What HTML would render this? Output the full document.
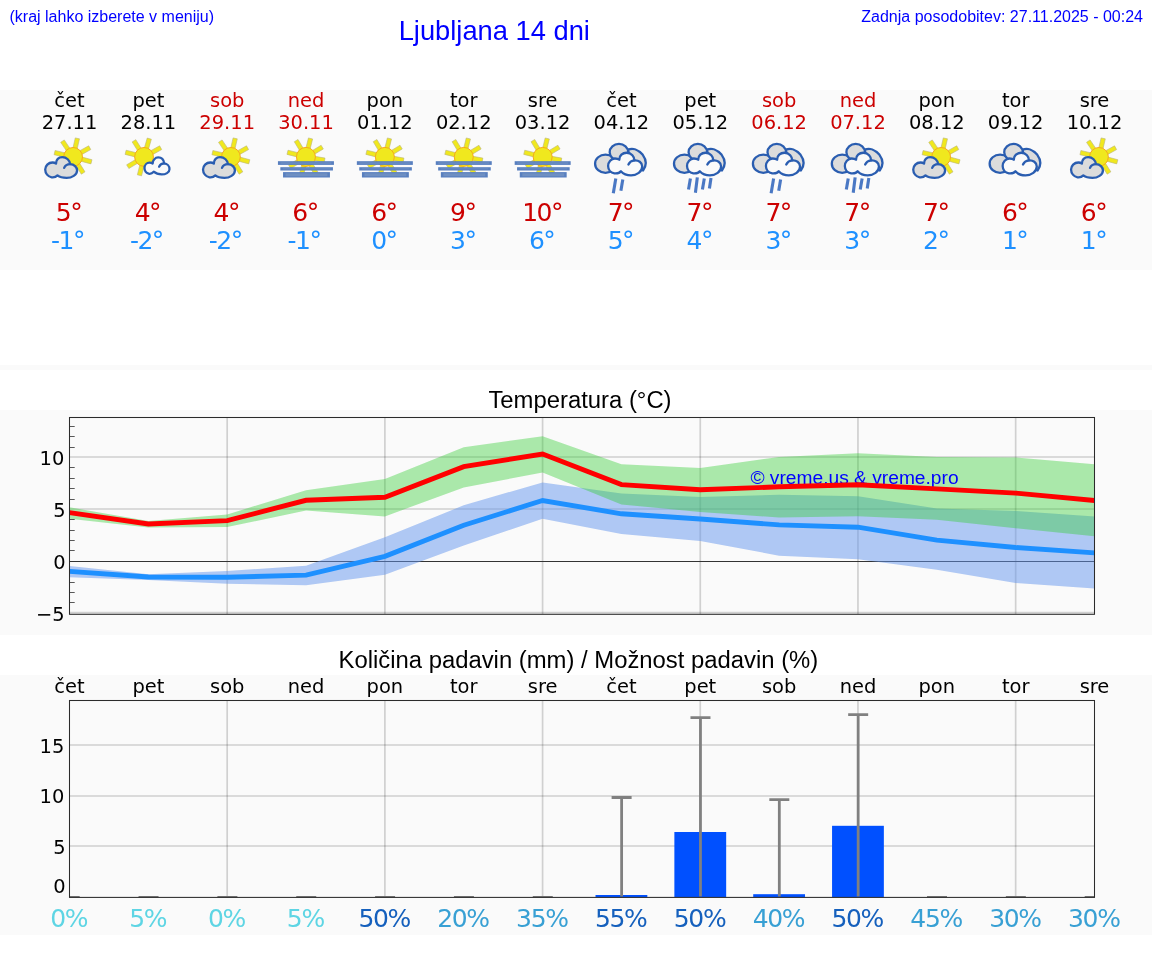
<!DOCTYPE html>
<html lang="sl"><head><meta charset="utf-8"><title>Ljubljana 14 dni</title>
<style>html,body{margin:0;padding:0;background:#fff}svg{display:block;will-change:transform}.d{font-family:'DejaVu Sans','Liberation Sans',sans-serif}.l{font-family:'Liberation Sans','DejaVu Sans',sans-serif}</style></head><body>
<svg width="1152" height="975" viewBox="0 0 1152 975">
<rect width="1152" height="975" fill="#fff"/>
<rect x="0" y="90" width="1152" height="180" fill="#fafafa"/>
<rect x="0" y="365" width="1152" height="5" fill="#fafafa"/>
<rect x="0" y="410" width="1152" height="225" fill="#fafafa"/>
<rect x="0" y="675" width="1152" height="260" fill="#fafafa"/>
<g class="l" fill="#0000ff">
<text x="9.5" y="22" font-size="16">(kraj lahko izberete v meniju)</text>
<text x="398.7" y="39.6" font-size="27.3">Ljubljana 14 dni</text>
<text x="1143" y="22" font-size="16" text-anchor="end">Zadnja posodobitev: 27.11.2025 - 00:24</text>
</g>
<g class="d" text-anchor="middle">
<text x="69.5" y="106.8" font-size="19.44" fill="#000">čet</text>
<text x="69.5" y="128.9" font-size="19.44" fill="#000">27.11</text>
<text x="68.5" y="221.2" font-size="25" letter-spacing="-1.5" fill="#cc0000">5°</text>
<text x="67.5" y="249.2" font-size="25" letter-spacing="-1.5" fill="#1e90ff">-1°</text>
<text x="148.35" y="106.8" font-size="19.44" fill="#000">pet</text>
<text x="148.35" y="128.9" font-size="19.44" fill="#000">28.11</text>
<text x="147.35" y="221.2" font-size="25" letter-spacing="-1.5" fill="#cc0000">4°</text>
<text x="146.35" y="249.2" font-size="25" letter-spacing="-1.5" fill="#1e90ff">-2°</text>
<text x="227.19" y="106.8" font-size="19.44" fill="#cc0000">sob</text>
<text x="227.19" y="128.9" font-size="19.44" fill="#cc0000">29.11</text>
<text x="226.19" y="221.2" font-size="25" letter-spacing="-1.5" fill="#cc0000">4°</text>
<text x="225.19" y="249.2" font-size="25" letter-spacing="-1.5" fill="#1e90ff">-2°</text>
<text x="306.04" y="106.8" font-size="19.44" fill="#cc0000">ned</text>
<text x="306.04" y="128.9" font-size="19.44" fill="#cc0000">30.11</text>
<text x="305.04" y="221.2" font-size="25" letter-spacing="-1.5" fill="#cc0000">6°</text>
<text x="304.04" y="249.2" font-size="25" letter-spacing="-1.5" fill="#1e90ff">-1°</text>
<text x="384.88" y="106.8" font-size="19.44" fill="#000">pon</text>
<text x="384.88" y="128.9" font-size="19.44" fill="#000">01.12</text>
<text x="383.88" y="221.2" font-size="25" letter-spacing="-1.5" fill="#cc0000">6°</text>
<text x="383.88" y="249.2" font-size="25" letter-spacing="-1.5" fill="#1e90ff">0°</text>
<text x="463.73" y="106.8" font-size="19.44" fill="#000">tor</text>
<text x="463.73" y="128.9" font-size="19.44" fill="#000">02.12</text>
<text x="462.73" y="221.2" font-size="25" letter-spacing="-1.5" fill="#cc0000">9°</text>
<text x="462.73" y="249.2" font-size="25" letter-spacing="-1.5" fill="#1e90ff">3°</text>
<text x="542.58" y="106.8" font-size="19.44" fill="#000">sre</text>
<text x="542.58" y="128.9" font-size="19.44" fill="#000">03.12</text>
<text x="542.08" y="221.2" font-size="25" letter-spacing="-1.5" fill="#cc0000">10°</text>
<text x="541.58" y="249.2" font-size="25" letter-spacing="-1.5" fill="#1e90ff">6°</text>
<text x="621.42" y="106.8" font-size="19.44" fill="#000">čet</text>
<text x="621.42" y="128.9" font-size="19.44" fill="#000">04.12</text>
<text x="620.42" y="221.2" font-size="25" letter-spacing="-1.5" fill="#cc0000">7°</text>
<text x="620.42" y="249.2" font-size="25" letter-spacing="-1.5" fill="#1e90ff">5°</text>
<text x="700.27" y="106.8" font-size="19.44" fill="#000">pet</text>
<text x="700.27" y="128.9" font-size="19.44" fill="#000">05.12</text>
<text x="699.27" y="221.2" font-size="25" letter-spacing="-1.5" fill="#cc0000">7°</text>
<text x="699.27" y="249.2" font-size="25" letter-spacing="-1.5" fill="#1e90ff">4°</text>
<text x="779.12" y="106.8" font-size="19.44" fill="#cc0000">sob</text>
<text x="779.12" y="128.9" font-size="19.44" fill="#cc0000">06.12</text>
<text x="778.12" y="221.2" font-size="25" letter-spacing="-1.5" fill="#cc0000">7°</text>
<text x="778.12" y="249.2" font-size="25" letter-spacing="-1.5" fill="#1e90ff">3°</text>
<text x="857.96" y="106.8" font-size="19.44" fill="#cc0000">ned</text>
<text x="857.96" y="128.9" font-size="19.44" fill="#cc0000">07.12</text>
<text x="856.96" y="221.2" font-size="25" letter-spacing="-1.5" fill="#cc0000">7°</text>
<text x="856.96" y="249.2" font-size="25" letter-spacing="-1.5" fill="#1e90ff">3°</text>
<text x="936.81" y="106.8" font-size="19.44" fill="#000">pon</text>
<text x="936.81" y="128.9" font-size="19.44" fill="#000">08.12</text>
<text x="935.81" y="221.2" font-size="25" letter-spacing="-1.5" fill="#cc0000">7°</text>
<text x="935.81" y="249.2" font-size="25" letter-spacing="-1.5" fill="#1e90ff">2°</text>
<text x="1015.65" y="106.8" font-size="19.44" fill="#000">tor</text>
<text x="1015.65" y="128.9" font-size="19.44" fill="#000">09.12</text>
<text x="1014.65" y="221.2" font-size="25" letter-spacing="-1.5" fill="#cc0000">6°</text>
<text x="1014.65" y="249.2" font-size="25" letter-spacing="-1.5" fill="#1e90ff">1°</text>
<text x="1094.5" y="106.8" font-size="19.44" fill="#000">sre</text>
<text x="1094.5" y="128.9" font-size="19.44" fill="#000">10.12</text>
<text x="1093.5" y="221.2" font-size="25" letter-spacing="-1.5" fill="#cc0000">6°</text>
<text x="1093.5" y="249.2" font-size="25" letter-spacing="-1.5" fill="#1e90ff">1°</text>
</g>
<g><polygon points="65.3,152.89 55.07,150.53 54.1,154.72 64.33,157.08" fill="#f0e81e" stroke="#b8b47a" stroke-width="0.6"/><polygon points="70.13,148.65 64.26,139.95 60.69,142.35 66.56,151.06" fill="#f0e81e" stroke="#b8b47a" stroke-width="0.6"/><polygon points="77.11,149.1 79.47,138.87 75.28,137.9 72.92,148.13" fill="#f0e81e" stroke="#b8b47a" stroke-width="0.6"/><polygon points="81.58,154.66 90.76,149.57 88.68,145.81 79.49,150.9" fill="#f0e81e" stroke="#b8b47a" stroke-width="0.6"/><polygon points="80.75,161.18 90.9,163.89 92.01,159.74 81.87,157.02" fill="#f0e81e" stroke="#b8b47a" stroke-width="0.6"/><polygon points="75.78,165.25 81.35,174.15 84.99,171.87 79.43,162.97" fill="#f0e81e" stroke="#b8b47a" stroke-width="0.6"/><circle cx="73.1" cy="156.9" r="9.4" fill="#f0e81e" stroke="#f6a81c" stroke-width="1"/><g transform="translate(40,150) scale(0.04167)" stroke-linejoin="round" stroke-linecap="round"><path d="M385,325 C380,230 450,170 535,170 C640,170 715,250 725,340 C820,340 890,410 890,490 C890,600 760,670 640,670 C550,670 470,650 420,610 C380,650 320,660 280,655 C190,640 125,560 125,470 C125,380 200,300 300,300 C335,300 365,310 385,325 Z" fill="#dcdcdc" stroke="#2a5db0" stroke-width="55.2"/><path d="M580,430 C600,375 660,340 725,340" fill="none" stroke="#2a5db0" stroke-width="55.2"/></g></g>
<g><polygon points="136.32,152.76 126.13,150.22 125.09,154.39 135.28,156.93" fill="#f0e81e" stroke="#b8b47a" stroke-width="0.6"/><polygon points="141.37,148.55 135.8,139.65 132.15,141.93 137.72,150.83" fill="#f0e81e" stroke="#b8b47a" stroke-width="0.6"/><polygon points="148.46,149.32 151.35,139.23 147.22,138.04 144.32,148.14" fill="#f0e81e" stroke="#b8b47a" stroke-width="0.6"/><polygon points="152.52,154.66 161.71,149.57 159.62,145.81 150.44,150.9" fill="#f0e81e" stroke="#b8b47a" stroke-width="0.6"/><polygon points="135.65,159.43 126.65,164.84 128.87,168.53 137.87,163.12" fill="#f0e81e" stroke="#b8b47a" stroke-width="0.6"/><polygon points="139.9,164.63 137.36,174.82 141.54,175.86 144.08,165.67" fill="#f0e81e" stroke="#b8b47a" stroke-width="0.6"/><circle cx="144.05" cy="156.9" r="9.4" fill="#f0e81e" stroke="#f6a81c" stroke-width="1"/><g transform="translate(136,150) scale(0.03472)" stroke-linejoin="round" stroke-linecap="round"><path d="M480,390 C480,290 555,215 640,215 C735,215 800,290 812,388 C900,395 965,470 965,555 C965,650 850,705 740,705 C640,705 560,670 510,625 C470,670 410,690 365,682 C290,660 245,590 245,520 C245,430 310,365 390,365 C425,365 455,375 480,390 Z" fill="#fafafa" stroke="#2a5db0" stroke-width="64.8"/><path d="M665,480 C690,425 745,392 812,388" fill="none" stroke="#2a5db0" stroke-width="64.8"/></g></g>
<g><polygon points="223.12,152.89 212.89,150.53 211.93,154.72 222.16,157.08" fill="#f0e81e" stroke="#b8b47a" stroke-width="0.6"/><polygon points="227.95,148.65 222.08,139.95 218.52,142.35 224.39,151.06" fill="#f0e81e" stroke="#b8b47a" stroke-width="0.6"/><polygon points="234.93,149.1 237.29,138.87 233.1,137.9 230.74,148.13" fill="#f0e81e" stroke="#b8b47a" stroke-width="0.6"/><polygon points="239.4,154.66 248.58,149.57 246.5,145.81 237.31,150.9" fill="#f0e81e" stroke="#b8b47a" stroke-width="0.6"/><polygon points="238.58,161.18 248.72,163.89 249.83,159.74 239.69,157.02" fill="#f0e81e" stroke="#b8b47a" stroke-width="0.6"/><polygon points="233.6,165.25 239.17,174.15 242.81,171.87 237.25,162.97" fill="#f0e81e" stroke="#b8b47a" stroke-width="0.6"/><circle cx="230.92" cy="156.9" r="9.4" fill="#f0e81e" stroke="#f6a81c" stroke-width="1"/><g transform="translate(197.82,150) scale(0.04167)" stroke-linejoin="round" stroke-linecap="round"><path d="M385,325 C380,230 450,170 535,170 C640,170 715,250 725,340 C820,340 890,410 890,490 C890,600 760,670 640,670 C550,670 470,650 420,610 C380,650 320,660 280,655 C190,640 125,560 125,470 C125,380 200,300 300,300 C335,300 365,310 385,325 Z" fill="#dcdcdc" stroke="#2a5db0" stroke-width="55.2"/><path d="M580,430 C600,375 660,340 725,340" fill="none" stroke="#2a5db0" stroke-width="55.2"/></g></g>
<g><polygon points="298.21,152.76 288.02,150.22 286.98,154.39 297.17,156.93" fill="#f0e81e" stroke="#b8b47a" stroke-width="0.6"/><polygon points="303.4,148.51 298,139.51 294.31,141.72 299.72,150.72" fill="#f0e81e" stroke="#b8b47a" stroke-width="0.6"/><polygon points="310.08,149.17 312.62,138.98 308.45,137.94 305.91,148.13" fill="#f0e81e" stroke="#b8b47a" stroke-width="0.6"/><polygon points="314.33,154.37 323.33,148.96 321.12,145.27 312.12,150.68" fill="#f0e81e" stroke="#b8b47a" stroke-width="0.6"/><polygon points="313.94,160.49 324.28,162.32 325.02,158.08 314.68,156.26" fill="#f0e81e" stroke="#b8b47a" stroke-width="0.6"/><polygon points="297.55,159.43 288.54,164.84 290.76,168.53 299.76,163.12" fill="#f0e81e" stroke="#b8b47a" stroke-width="0.6"/><polygon points="301.8,164.63 299.26,174.82 303.43,175.86 305.97,165.67" fill="#f0e81e" stroke="#b8b47a" stroke-width="0.6"/><polygon points="308.62,165.25 314.18,174.15 317.83,171.87 312.27,162.97" fill="#f0e81e" stroke="#b8b47a" stroke-width="0.6"/><circle cx="305.94" cy="156.9" r="9.5" fill="#f0e81e" stroke="#f6a81c" stroke-width="1"/><rect x="277.94" y="161.2" width="56" height="3.7" fill="#587fbf"/><rect x="280.44" y="162.4" width="51" height="1.3" fill="#6e8fc2"/><rect x="280.34" y="167.2" width="52.6" height="3.3" fill="#587fbf"/><rect x="282.84" y="168.4" width="47.6" height="0.9" fill="#6e8fc2"/><rect x="283.04" y="172.1" width="46.9" height="5.4" fill="#587fbf"/><rect x="285.54" y="173.3" width="41.9" height="3" fill="#6e8fc2"/></g>
<g><polygon points="377.12,152.76 366.93,150.22 365.89,154.39 376.08,156.93" fill="#f0e81e" stroke="#b8b47a" stroke-width="0.6"/><polygon points="382.31,148.51 376.91,139.51 373.22,141.72 378.63,150.72" fill="#f0e81e" stroke="#b8b47a" stroke-width="0.6"/><polygon points="388.99,149.17 391.53,138.98 387.36,137.94 384.82,148.13" fill="#f0e81e" stroke="#b8b47a" stroke-width="0.6"/><polygon points="393.24,154.37 402.24,148.96 400.03,145.27 391.03,150.68" fill="#f0e81e" stroke="#b8b47a" stroke-width="0.6"/><polygon points="392.85,160.49 403.19,162.32 403.93,158.08 393.59,156.26" fill="#f0e81e" stroke="#b8b47a" stroke-width="0.6"/><polygon points="376.46,159.43 367.46,164.84 369.67,168.53 378.67,163.12" fill="#f0e81e" stroke="#b8b47a" stroke-width="0.6"/><polygon points="380.71,164.63 378.17,174.82 382.34,175.86 384.88,165.67" fill="#f0e81e" stroke="#b8b47a" stroke-width="0.6"/><polygon points="387.53,165.25 393.09,174.15 396.74,171.87 391.18,162.97" fill="#f0e81e" stroke="#b8b47a" stroke-width="0.6"/><circle cx="384.85" cy="156.9" r="9.5" fill="#f0e81e" stroke="#f6a81c" stroke-width="1"/><rect x="356.85" y="161.2" width="56" height="3.7" fill="#587fbf"/><rect x="359.35" y="162.4" width="51" height="1.3" fill="#6e8fc2"/><rect x="359.25" y="167.2" width="52.6" height="3.3" fill="#587fbf"/><rect x="361.75" y="168.4" width="47.6" height="0.9" fill="#6e8fc2"/><rect x="361.95" y="172.1" width="46.9" height="5.4" fill="#587fbf"/><rect x="364.45" y="173.3" width="41.9" height="3" fill="#6e8fc2"/></g>
<g><polygon points="456.03,152.76 445.85,150.22 444.81,154.39 454.99,156.93" fill="#f0e81e" stroke="#b8b47a" stroke-width="0.6"/><polygon points="461.23,148.51 455.82,139.51 452.13,141.72 457.54,150.72" fill="#f0e81e" stroke="#b8b47a" stroke-width="0.6"/><polygon points="467.9,149.17 470.44,138.98 466.27,137.94 463.73,148.13" fill="#f0e81e" stroke="#b8b47a" stroke-width="0.6"/><polygon points="472.15,154.37 481.15,148.96 478.94,145.27 469.94,150.68" fill="#f0e81e" stroke="#b8b47a" stroke-width="0.6"/><polygon points="471.76,160.49 482.1,162.32 482.85,158.08 472.5,156.26" fill="#f0e81e" stroke="#b8b47a" stroke-width="0.6"/><polygon points="455.37,159.43 446.37,164.84 448.58,168.53 457.58,163.12" fill="#f0e81e" stroke="#b8b47a" stroke-width="0.6"/><polygon points="459.62,164.63 457.08,174.82 461.25,175.86 463.79,165.67" fill="#f0e81e" stroke="#b8b47a" stroke-width="0.6"/><polygon points="466.44,165.25 472.01,174.15 475.65,171.87 470.09,162.97" fill="#f0e81e" stroke="#b8b47a" stroke-width="0.6"/><circle cx="463.76" cy="156.9" r="9.5" fill="#f0e81e" stroke="#f6a81c" stroke-width="1"/><rect x="435.76" y="161.2" width="56" height="3.7" fill="#587fbf"/><rect x="438.26" y="162.4" width="51" height="1.3" fill="#6e8fc2"/><rect x="438.16" y="167.2" width="52.6" height="3.3" fill="#587fbf"/><rect x="440.66" y="168.4" width="47.6" height="0.9" fill="#6e8fc2"/><rect x="440.86" y="172.1" width="46.9" height="5.4" fill="#587fbf"/><rect x="443.36" y="173.3" width="41.9" height="3" fill="#6e8fc2"/></g>
<g><polygon points="534.94,152.76 524.76,150.22 523.72,154.39 533.9,156.93" fill="#f0e81e" stroke="#b8b47a" stroke-width="0.6"/><polygon points="540.14,148.51 534.73,139.51 531.04,141.72 536.45,150.72" fill="#f0e81e" stroke="#b8b47a" stroke-width="0.6"/><polygon points="546.81,149.17 549.35,138.98 545.18,137.94 542.64,148.13" fill="#f0e81e" stroke="#b8b47a" stroke-width="0.6"/><polygon points="551.07,154.37 560.07,148.96 557.85,145.27 548.85,150.68" fill="#f0e81e" stroke="#b8b47a" stroke-width="0.6"/><polygon points="550.67,160.49 561.01,162.32 561.76,158.08 551.42,156.26" fill="#f0e81e" stroke="#b8b47a" stroke-width="0.6"/><polygon points="534.28,159.43 525.28,164.84 527.49,168.53 536.49,163.12" fill="#f0e81e" stroke="#b8b47a" stroke-width="0.6"/><polygon points="538.53,164.63 535.99,174.82 540.16,175.86 542.7,165.67" fill="#f0e81e" stroke="#b8b47a" stroke-width="0.6"/><polygon points="545.35,165.25 550.92,174.15 554.56,171.87 549,162.97" fill="#f0e81e" stroke="#b8b47a" stroke-width="0.6"/><circle cx="542.67" cy="156.9" r="9.5" fill="#f0e81e" stroke="#f6a81c" stroke-width="1"/><rect x="514.67" y="161.2" width="56" height="3.7" fill="#587fbf"/><rect x="517.17" y="162.4" width="51" height="1.3" fill="#6e8fc2"/><rect x="517.07" y="167.2" width="52.6" height="3.3" fill="#587fbf"/><rect x="519.57" y="168.4" width="47.6" height="0.9" fill="#6e8fc2"/><rect x="519.77" y="172.1" width="46.9" height="5.4" fill="#587fbf"/><rect x="522.27" y="173.3" width="41.9" height="3" fill="#6e8fc2"/></g>
<g><g transform="translate(591.45,140) scale(0.05208)" stroke-linejoin="round" stroke-linecap="round"><path d="M470,455 A200,175 0 1 1 70,455 A200,175 0 1 1 470,455 Z" fill="#dcdcdc" stroke="#2a5db0" stroke-width="44.16"/><path d="M705,185 C790,150 900,180 985,285 C1040,360 1075,470 990,585 L800,520 L720,330 Z" fill="#dcdcdc" stroke="#2a5db0" stroke-width="44.16"/><path d="M706,235 A178,160 0 1 1 350,235 A178,160 0 1 1 706,235 Z" fill="#dcdcdc" stroke="#2a5db0" stroke-width="44.16"/><path d="M535,380 C530,300 600,245 675,245 C770,245 825,320 825,392 C900,385 975,430 975,510 C975,610 870,680 760,680 C680,680 610,650 565,600 C540,635 490,645 440,640 C370,630 320,570 320,500 C320,420 380,355 450,355 C490,355 520,365 535,380 Z" fill="#fafafa" stroke="#2a5db0" stroke-width="44.16"/><path d="M710,470 C730,425 770,400 825,393" fill="none" stroke="#2a5db0" stroke-width="44.16"/></g><line x1="615.8" y1="178.4" x2="613.3" y2="193.3" stroke="#4a78c4" stroke-width="3.1"/><line x1="622.8" y1="179.6" x2="620.9" y2="190.8" stroke="#4a78c4" stroke-width="3.1"/></g>
<g><g transform="translate(670.36,140) scale(0.05208)" stroke-linejoin="round" stroke-linecap="round"><path d="M470,455 A200,175 0 1 1 70,455 A200,175 0 1 1 470,455 Z" fill="#dcdcdc" stroke="#2a5db0" stroke-width="44.16"/><path d="M705,185 C790,150 900,180 985,285 C1040,360 1075,470 990,585 L800,520 L720,330 Z" fill="#dcdcdc" stroke="#2a5db0" stroke-width="44.16"/><path d="M706,235 A178,160 0 1 1 350,235 A178,160 0 1 1 706,235 Z" fill="#dcdcdc" stroke="#2a5db0" stroke-width="44.16"/><path d="M535,380 C530,300 600,245 675,245 C770,245 825,320 825,392 C900,385 975,430 975,510 C975,610 870,680 760,680 C680,680 610,650 565,600 C540,635 490,645 440,640 C370,630 320,570 320,500 C320,420 380,355 450,355 C490,355 520,365 535,380 Z" fill="#fafafa" stroke="#2a5db0" stroke-width="44.16"/><path d="M710,470 C730,425 770,400 825,393" fill="none" stroke="#2a5db0" stroke-width="44.16"/></g><line x1="690.41" y1="178.4" x2="688.51" y2="189.5" stroke="#4a78c4" stroke-width="3.1"/><line x1="697.31" y1="177.4" x2="695.41" y2="192.7" stroke="#4a78c4" stroke-width="3.1"/><line x1="704.31" y1="178.4" x2="702.41" y2="189.5" stroke="#4a78c4" stroke-width="3.1"/><line x1="711.01" y1="178" x2="709.41" y2="188.5" stroke="#4a78c4" stroke-width="3.1"/></g>
<g><g transform="translate(749.27,140) scale(0.05208)" stroke-linejoin="round" stroke-linecap="round"><path d="M470,455 A200,175 0 1 1 70,455 A200,175 0 1 1 470,455 Z" fill="#dcdcdc" stroke="#2a5db0" stroke-width="44.16"/><path d="M705,185 C790,150 900,180 985,285 C1040,360 1075,470 990,585 L800,520 L720,330 Z" fill="#dcdcdc" stroke="#2a5db0" stroke-width="44.16"/><path d="M706,235 A178,160 0 1 1 350,235 A178,160 0 1 1 706,235 Z" fill="#dcdcdc" stroke="#2a5db0" stroke-width="44.16"/><path d="M535,380 C530,300 600,245 675,245 C770,245 825,320 825,392 C900,385 975,430 975,510 C975,610 870,680 760,680 C680,680 610,650 565,600 C540,635 490,645 440,640 C370,630 320,570 320,500 C320,420 380,355 450,355 C490,355 520,365 535,380 Z" fill="#fafafa" stroke="#2a5db0" stroke-width="44.16"/><path d="M710,470 C730,425 770,400 825,393" fill="none" stroke="#2a5db0" stroke-width="44.16"/></g><line x1="773.62" y1="178.4" x2="771.12" y2="193.3" stroke="#4a78c4" stroke-width="3.1"/><line x1="780.62" y1="179.6" x2="778.72" y2="190.8" stroke="#4a78c4" stroke-width="3.1"/></g>
<g><g transform="translate(828.18,140) scale(0.05208)" stroke-linejoin="round" stroke-linecap="round"><path d="M470,455 A200,175 0 1 1 70,455 A200,175 0 1 1 470,455 Z" fill="#dcdcdc" stroke="#2a5db0" stroke-width="44.16"/><path d="M705,185 C790,150 900,180 985,285 C1040,360 1075,470 990,585 L800,520 L720,330 Z" fill="#dcdcdc" stroke="#2a5db0" stroke-width="44.16"/><path d="M706,235 A178,160 0 1 1 350,235 A178,160 0 1 1 706,235 Z" fill="#dcdcdc" stroke="#2a5db0" stroke-width="44.16"/><path d="M535,380 C530,300 600,245 675,245 C770,245 825,320 825,392 C900,385 975,430 975,510 C975,610 870,680 760,680 C680,680 610,650 565,600 C540,635 490,645 440,640 C370,630 320,570 320,500 C320,420 380,355 450,355 C490,355 520,365 535,380 Z" fill="#fafafa" stroke="#2a5db0" stroke-width="44.16"/><path d="M710,470 C730,425 770,400 825,393" fill="none" stroke="#2a5db0" stroke-width="44.16"/></g><line x1="848.23" y1="178.4" x2="846.33" y2="189.5" stroke="#4a78c4" stroke-width="3.1"/><line x1="855.13" y1="177.4" x2="853.23" y2="192.7" stroke="#4a78c4" stroke-width="3.1"/><line x1="862.13" y1="178.4" x2="860.23" y2="189.5" stroke="#4a78c4" stroke-width="3.1"/><line x1="868.83" y1="178" x2="867.23" y2="188.5" stroke="#4a78c4" stroke-width="3.1"/></g>
<g><polygon points="933.32,152.89 923.09,150.53 922.13,154.72 932.36,157.08" fill="#f0e81e" stroke="#b8b47a" stroke-width="0.6"/><polygon points="938.15,148.65 932.28,139.95 928.72,142.35 934.59,151.06" fill="#f0e81e" stroke="#b8b47a" stroke-width="0.6"/><polygon points="945.13,149.1 947.49,138.87 943.3,137.9 940.94,148.13" fill="#f0e81e" stroke="#b8b47a" stroke-width="0.6"/><polygon points="949.6,154.66 958.78,149.57 956.7,145.81 947.51,150.9" fill="#f0e81e" stroke="#b8b47a" stroke-width="0.6"/><polygon points="948.78,161.18 958.92,163.89 960.03,159.74 949.89,157.02" fill="#f0e81e" stroke="#b8b47a" stroke-width="0.6"/><polygon points="943.8,165.25 949.37,174.15 953.01,171.87 947.45,162.97" fill="#f0e81e" stroke="#b8b47a" stroke-width="0.6"/><circle cx="941.12" cy="156.9" r="9.4" fill="#f0e81e" stroke="#f6a81c" stroke-width="1"/><g transform="translate(908.02,150) scale(0.04167)" stroke-linejoin="round" stroke-linecap="round"><path d="M385,325 C380,230 450,170 535,170 C640,170 715,250 725,340 C820,340 890,410 890,490 C890,600 760,670 640,670 C550,670 470,650 420,610 C380,650 320,660 280,655 C190,640 125,560 125,470 C125,380 200,300 300,300 C335,300 365,310 385,325 Z" fill="#dcdcdc" stroke="#2a5db0" stroke-width="55.2"/><path d="M580,430 C600,375 660,340 725,340" fill="none" stroke="#2a5db0" stroke-width="55.2"/></g></g>
<g><g transform="translate(986,140) scale(0.05208)" stroke-linejoin="round" stroke-linecap="round"><path d="M470,455 A200,175 0 1 1 70,455 A200,175 0 1 1 470,455 Z" fill="#dcdcdc" stroke="#2a5db0" stroke-width="44.16"/><path d="M705,185 C790,150 900,180 985,285 C1040,360 1075,470 990,585 L800,520 L720,330 Z" fill="#dcdcdc" stroke="#2a5db0" stroke-width="44.16"/><path d="M706,235 A178,160 0 1 1 350,235 A178,160 0 1 1 706,235 Z" fill="#dcdcdc" stroke="#2a5db0" stroke-width="44.16"/><path d="M535,380 C530,300 600,245 675,245 C770,245 825,320 825,392 C900,385 975,430 975,510 C975,610 870,680 760,680 C680,680 610,650 565,600 C540,635 490,645 440,640 C370,630 320,570 320,500 C320,420 380,355 450,355 C490,355 520,365 535,380 Z" fill="#fafafa" stroke="#2a5db0" stroke-width="44.16"/><path d="M710,470 C730,425 770,400 825,393" fill="none" stroke="#2a5db0" stroke-width="44.16"/></g></g>
<g><polygon points="1091.15,152.89 1080.92,150.53 1079.95,154.72 1090.18,157.08" fill="#f0e81e" stroke="#b8b47a" stroke-width="0.6"/><polygon points="1095.97,148.65 1090.1,139.95 1086.54,142.35 1092.41,151.06" fill="#f0e81e" stroke="#b8b47a" stroke-width="0.6"/><polygon points="1102.95,149.1 1105.31,138.87 1101.12,137.9 1098.76,148.13" fill="#f0e81e" stroke="#b8b47a" stroke-width="0.6"/><polygon points="1107.42,154.66 1116.61,149.57 1114.52,145.81 1105.34,150.9" fill="#f0e81e" stroke="#b8b47a" stroke-width="0.6"/><polygon points="1106.6,161.18 1116.74,163.89 1117.85,159.74 1107.71,157.02" fill="#f0e81e" stroke="#b8b47a" stroke-width="0.6"/><polygon points="1101.63,165.25 1107.19,174.15 1110.84,171.87 1105.27,162.97" fill="#f0e81e" stroke="#b8b47a" stroke-width="0.6"/><circle cx="1098.94" cy="156.9" r="9.4" fill="#f0e81e" stroke="#f6a81c" stroke-width="1"/><g transform="translate(1065.85,150) scale(0.04167)" stroke-linejoin="round" stroke-linecap="round"><path d="M385,325 C380,230 450,170 535,170 C640,170 715,250 725,340 C820,340 890,410 890,490 C890,600 760,670 640,670 C550,670 470,650 420,610 C380,650 320,660 280,655 C190,640 125,560 125,470 C125,380 200,300 300,300 C335,300 365,310 385,325 Z" fill="#dcdcdc" stroke="#2a5db0" stroke-width="55.2"/><path d="M580,430 C600,375 660,340 725,340" fill="none" stroke="#2a5db0" stroke-width="55.2"/></g></g>
<text class="l" x="580" y="408.2" font-size="23.85" text-anchor="middle" fill="#000">Temperatura (°C)</text>
<clipPath id="ct"><rect x="69.5" y="417.5" width="1025" height="196.8"/></clipPath>
<g clip-path="url(#ct)">
<line x1="227.19" y1="417.5" x2="227.19" y2="614.3" stroke="#000" stroke-opacity="0.17" stroke-width="1.7"/>
<line x1="384.88" y1="417.5" x2="384.88" y2="614.3" stroke="#000" stroke-opacity="0.17" stroke-width="1.7"/>
<line x1="542.58" y1="417.5" x2="542.58" y2="614.3" stroke="#000" stroke-opacity="0.17" stroke-width="1.7"/>
<line x1="700.27" y1="417.5" x2="700.27" y2="614.3" stroke="#000" stroke-opacity="0.17" stroke-width="1.7"/>
<line x1="857.96" y1="417.5" x2="857.96" y2="614.3" stroke="#000" stroke-opacity="0.17" stroke-width="1.7"/>
<line x1="1015.65" y1="417.5" x2="1015.65" y2="614.3" stroke="#000" stroke-opacity="0.17" stroke-width="1.7"/>
<line x1="69.5" y1="457" x2="1094.5" y2="457" stroke="#000" stroke-opacity="0.17" stroke-width="1.7"/>
<line x1="69.5" y1="509" x2="1094.5" y2="509" stroke="#000" stroke-opacity="0.17" stroke-width="1.7"/>
<line x1="69.5" y1="612.7" x2="1094.5" y2="612.7" stroke="#000" stroke-opacity="0.17" stroke-width="1.7"/>
<line x1="69.5" y1="561.5" x2="1094.5" y2="561.5" stroke="#333" stroke-width="1.05"/>
<polygon points="69.5,566 148.35,574.2 227.19,571 306.04,565.8 384.88,537.3 463.73,505.3 542.58,482.4 621.42,493.5 700.27,497 779.12,494.8 857.96,496.2 936.81,508.6 1015.65,511.1 1094.5,516.5 1094.5,588.6 1015.65,583 936.81,569.7 857.96,559.3 779.12,555.7 700.27,540.9 621.42,534.1 542.58,518.8 463.73,545.5 384.88,574.7 306.04,585.2 227.19,583.8 148.35,580 69.5,577.3" fill="#6495ed" fill-opacity="0.5"/>
<polygon points="69.5,507.3 148.35,521 227.19,514.5 306.04,490.2 384.88,479 463.73,447.3 542.58,436.2 621.42,464.3 700.27,468 779.12,456.9 857.96,453.2 936.81,456.9 1015.65,457.4 1094.5,464.3 1094.5,536.2 1015.65,528.3 936.81,519.7 857.96,516.3 779.12,517.5 700.27,511.9 621.42,504.6 542.58,472.6 463.73,487.4 384.88,516.4 306.04,510.5 227.19,527 148.35,527.4 69.5,518.8" fill="#32cd32" fill-opacity="0.4"/>
</g>
<line x1="69.5" y1="426.5" x2="74.7" y2="426.5" stroke="#3a3a3a" stroke-width="0.85"/>
<line x1="69.5" y1="436.5" x2="74.7" y2="436.5" stroke="#3a3a3a" stroke-width="0.85"/>
<line x1="69.5" y1="447.5" x2="74.7" y2="447.5" stroke="#3a3a3a" stroke-width="0.85"/>
<line x1="69.5" y1="467.5" x2="74.7" y2="467.5" stroke="#3a3a3a" stroke-width="0.85"/>
<line x1="69.5" y1="478.5" x2="74.7" y2="478.5" stroke="#3a3a3a" stroke-width="0.85"/>
<line x1="69.5" y1="488.5" x2="74.7" y2="488.5" stroke="#3a3a3a" stroke-width="0.85"/>
<line x1="69.5" y1="499.5" x2="74.7" y2="499.5" stroke="#3a3a3a" stroke-width="0.85"/>
<line x1="69.5" y1="519.5" x2="74.7" y2="519.5" stroke="#3a3a3a" stroke-width="0.85"/>
<line x1="69.5" y1="530.5" x2="74.7" y2="530.5" stroke="#3a3a3a" stroke-width="0.85"/>
<line x1="69.5" y1="540.5" x2="74.7" y2="540.5" stroke="#3a3a3a" stroke-width="0.85"/>
<line x1="69.5" y1="550.5" x2="74.7" y2="550.5" stroke="#3a3a3a" stroke-width="0.85"/>
<line x1="69.5" y1="571.5" x2="74.7" y2="571.5" stroke="#3a3a3a" stroke-width="0.85"/>
<line x1="69.5" y1="582.5" x2="74.7" y2="582.5" stroke="#3a3a3a" stroke-width="0.85"/>
<line x1="69.5" y1="592.5" x2="74.7" y2="592.5" stroke="#3a3a3a" stroke-width="0.85"/>
<line x1="69.5" y1="602.5" x2="74.7" y2="602.5" stroke="#3a3a3a" stroke-width="0.85"/>
<text class="l" x="750.4" y="483.5" font-size="19.2" fill="#0000ff">© vreme.us &amp; vreme.pro</text>
<g clip-path="url(#ct)" fill="none" stroke-linejoin="miter">
<polyline points="69.5,571.4 148.35,577 227.19,577.3 306.04,575.1 384.88,556.4 463.73,525.2 542.58,500.5 621.42,513.8 700.27,519 779.12,524.9 857.96,527.2 936.81,540.1 1015.65,547.5 1094.5,552.9" stroke="#1e90ff" stroke-width="4.9"/>
<polyline points="69.5,512.6 148.35,524 227.19,520.6 306.04,500.3 384.88,497.2 463.73,466.7 542.58,454 621.42,484.6 700.27,489.8 779.12,486.8 857.96,484.7 936.81,488.9 1015.65,493.1 1094.5,500.5" stroke="#ff0000" stroke-width="4.9"/>
</g>
<rect x="69.5" y="417.5" width="1025" height="196.8" fill="none" stroke="#2b2b2b" stroke-width="1.05"/>
<g class="d" font-size="19.44" text-anchor="end" fill="#000">
<text x="64.3" y="464.75">10</text>
<text x="65.5" y="516.67">5</text>
<text x="65.5" y="568.6">0</text>
<text x="64.6" y="620.52">−5</text>
</g>
<text class="l" x="578.4" y="667.9" font-size="23.85" text-anchor="middle" fill="#000">Količina padavin (mm) / Možnost padavin (%)</text>
<g class="d" font-size="19.44" text-anchor="middle" fill="#000">
<text x="69.5" y="692.5">čet</text>
<text x="148.35" y="692.5">pet</text>
<text x="227.19" y="692.5">sob</text>
<text x="306.04" y="692.5">ned</text>
<text x="384.88" y="692.5">pon</text>
<text x="463.73" y="692.5">tor</text>
<text x="542.58" y="692.5">sre</text>
<text x="621.42" y="692.5">čet</text>
<text x="700.27" y="692.5">pet</text>
<text x="779.12" y="692.5">sob</text>
<text x="857.96" y="692.5">ned</text>
<text x="936.81" y="692.5">pon</text>
<text x="1015.65" y="692.5">tor</text>
<text x="1094.5" y="692.5">sre</text>
</g>
<clipPath id="cp"><rect x="69.5" y="700.5" width="1025" height="196.9"/></clipPath>
<g clip-path="url(#cp)">
<line x1="227.19" y1="700.5" x2="227.19" y2="897.4" stroke="#000" stroke-opacity="0.17" stroke-width="1.7"/>
<line x1="384.88" y1="700.5" x2="384.88" y2="897.4" stroke="#000" stroke-opacity="0.17" stroke-width="1.7"/>
<line x1="542.58" y1="700.5" x2="542.58" y2="897.4" stroke="#000" stroke-opacity="0.17" stroke-width="1.7"/>
<line x1="700.27" y1="700.5" x2="700.27" y2="897.4" stroke="#000" stroke-opacity="0.17" stroke-width="1.7"/>
<line x1="857.96" y1="700.5" x2="857.96" y2="897.4" stroke="#000" stroke-opacity="0.17" stroke-width="1.7"/>
<line x1="1015.65" y1="700.5" x2="1015.65" y2="897.4" stroke="#000" stroke-opacity="0.17" stroke-width="1.7"/>
<line x1="69.5" y1="745" x2="1094.5" y2="745" stroke="#000" stroke-opacity="0.17" stroke-width="1.7"/>
<line x1="69.5" y1="796" x2="1094.5" y2="796" stroke="#000" stroke-opacity="0.17" stroke-width="1.7"/>
<line x1="69.5" y1="846" x2="1094.5" y2="846" stroke="#000" stroke-opacity="0.17" stroke-width="1.7"/>
<rect x="595.52" y="895" width="51.8" height="2.4" fill="#0050ff"/>
<rect x="674.37" y="832" width="51.8" height="65.4" fill="#0050ff"/>
<rect x="753.22" y="894.2" width="51.8" height="3.2" fill="#0050ff"/>
<rect x="832.06" y="825.8" width="51.8" height="71.6" fill="#0050ff"/>
<line x1="59.7" y1="896.65" x2="79.7" y2="896.65" stroke="#777" stroke-width="1.5"/>
<line x1="138.55" y1="896.65" x2="158.55" y2="896.65" stroke="#777" stroke-width="1.5"/>
<line x1="217.39" y1="896.65" x2="237.39" y2="896.65" stroke="#777" stroke-width="1.5"/>
<line x1="296.24" y1="896.65" x2="316.24" y2="896.65" stroke="#777" stroke-width="1.5"/>
<line x1="375.08" y1="896.65" x2="395.08" y2="896.65" stroke="#777" stroke-width="1.5"/>
<line x1="453.93" y1="896.65" x2="473.93" y2="896.65" stroke="#777" stroke-width="1.5"/>
<line x1="532.78" y1="896.65" x2="552.78" y2="896.65" stroke="#777" stroke-width="1.5"/>
<line x1="621.62" y1="797.5" x2="621.62" y2="896.4" stroke="#808080" stroke-width="2.8"/>
<line x1="611.62" y1="797.5" x2="631.62" y2="797.5" stroke="#808080" stroke-width="2.8"/>
<line x1="700.47" y1="717.6" x2="700.47" y2="896.4" stroke="#808080" stroke-width="2.8"/>
<line x1="690.47" y1="717.6" x2="710.47" y2="717.6" stroke="#808080" stroke-width="2.8"/>
<line x1="779.32" y1="799.7" x2="779.32" y2="896.4" stroke="#808080" stroke-width="2.8"/>
<line x1="769.32" y1="799.7" x2="789.32" y2="799.7" stroke="#808080" stroke-width="2.8"/>
<line x1="858.16" y1="714.7" x2="858.16" y2="896.4" stroke="#808080" stroke-width="2.8"/>
<line x1="848.16" y1="714.7" x2="868.16" y2="714.7" stroke="#808080" stroke-width="2.8"/>
<line x1="927.01" y1="896.65" x2="947.01" y2="896.65" stroke="#777" stroke-width="1.5"/>
<line x1="1005.85" y1="896.65" x2="1025.85" y2="896.65" stroke="#777" stroke-width="1.5"/>
<line x1="1084.7" y1="896.65" x2="1104.7" y2="896.65" stroke="#777" stroke-width="1.5"/>
</g>
<rect x="69.5" y="700.5" width="1025" height="196.9" fill="none" stroke="#2b2b2b" stroke-width="1.05"/>
<g class="d" font-size="19.44" text-anchor="end" fill="#000">
<text x="64.3" y="753">15</text>
<text x="64.3" y="803">10</text>
<text x="65.5" y="853.6">5</text>
<text x="65.5" y="893">0</text>
</g>
<g class="d" font-size="25" letter-spacing="-1.35" text-anchor="middle">
<text x="68.8" y="926.5" fill="#5ed5e4">0%</text>
<text x="147.65" y="926.5" fill="#5ed5e4">5%</text>
<text x="226.49" y="926.5" fill="#5ed5e4">0%</text>
<text x="305.34" y="926.5" fill="#5ed5e4">5%</text>
<text x="384.18" y="926.5" fill="#1560bd">50%</text>
<text x="463.03" y="926.5" fill="#38a0d4">20%</text>
<text x="541.88" y="926.5" fill="#38a0d4">35%</text>
<text x="620.72" y="926.5" fill="#1560bd">55%</text>
<text x="699.57" y="926.5" fill="#1560bd">50%</text>
<text x="778.42" y="926.5" fill="#38a0d4">40%</text>
<text x="857.26" y="926.5" fill="#1560bd">50%</text>
<text x="936.11" y="926.5" fill="#38a0d4">45%</text>
<text x="1014.95" y="926.5" fill="#38a0d4">30%</text>
<text x="1093.8" y="926.5" fill="#38a0d4">30%</text>
</g>
</svg></body></html>
